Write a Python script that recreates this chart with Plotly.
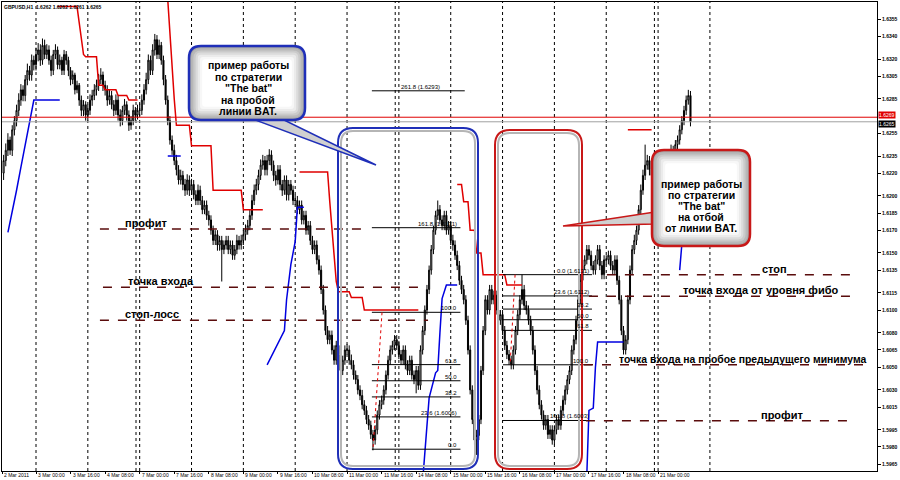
import plotly.graph_objects as go

# ---------------- data (prices in pips above 1.6000, bars indexed by trading hour since 2 Mar 00:00) ----------------
FIRST_BAR = 9
FIRST_OPEN = 220
closes = [
    231,240,249,240,258,266,275,284,293,288,302,310,306,319,315,
    324,328,319,332,324,328,319,310,324,328,315,319,310,324,319,310,302,306,293,297,284,275,280,271,
    275,284,288,293,297,302,306,297,293,284,288,280,275,284,271,266,275,280,271,262,266,275,271,275,
    275,284,293,302,319,310,328,337,324,332,319,302,284,266,249,240,231,223,214,218,210,205,214,205,
    210,201,196,205,196,188,192,183,179,170,161,166,157,161,153,157,161,153,157,148,153,161,157,161,
    166,170,174,183,196,205,210,218,227,231,223,231,236,227,218,214,223,210,205,214,201,210,205,196,
    196,188,192,179,183,170,174,161,153,157,144,135,118,100,82,74,78,65,56,69,61,47,56,65,
    65,56,52,43,39,30,25,17,12,4,-1,-9,-14,-5,8,17,21,30,43,56,65,69,74,69,
    61,56,65,52,47,56,43,39,47,34,65,82,100,118,135,153,170,183,188,179,174,183,170,174,
    161,157,148,139,126,118,109,91,65,30,4,-14,-10,4,47,82,109,100,118,109,113,100,91,96,
    82,69,61,56,52,65,82,96,109,118,104,100,91,82,65,47,30,17,8,-1,4,-9,-5,-14,
    -5,4,-1,12,21,30,39,47,65,74,91,109,126,139,144,153,148,139,135,144,153,139,131,144,
    144,148,139,135,144,126,109,82,65,74,109,135,153,161,170,188,205,218,227,231,223,218,227,223,
    227,223,218,231,227,236,240,231,245,249,258,266,275,284,288,265,
]
highs = [
    236,246,255,252,262,270,280,290,298,297,306,316,314,324,323,
    330,334,333,338,337,333,332,323,328,333,331,324,322,328,327,322,313,310,308,301,299,288,284,283,
    280,289,293,298,302,307,312,309,301,297,293,292,284,289,288,276,279,285,283,275,270,280,278,280,
    281,289,298,308,324,323,333,342,341,337,335,323,306,288,270,253,245,236,227,223,222,215,219,218,
    215,214,205,210,209,200,196,196,187,183,174,170,170,165,165,161,165,165,161,161,157,166,165,166,
    170,175,179,188,201,210,215,223,232,236,235,236,241,240,231,222,227,227,214,218,218,214,214,209,
    201,200,196,196,187,187,178,178,165,161,161,148,139,122,104,86,82,82,69,73,73,65,60,69,
    70,69,61,56,47,43,34,30,21,16,8,3,-5,-1,12,21,25,34,47,60,69,73,78,78,
    73,65,69,69,56,60,60,47,51,51,69,86,104,122,139,157,174,187,196,192,183,187,187,178,
    178,166,161,152,143,130,122,113,95,69,34,8,-5,8,51,86,113,113,122,122,117,117,104,100,
    100,86,73,65,60,69,86,100,113,131,122,108,104,95,86,69,51,34,21,12,8,8,-1,-1,
    -1,8,8,16,25,34,43,51,69,78,95,113,131,143,148,157,157,152,143,148,157,157,143,148,
    148,152,152,143,148,148,130,113,86,78,113,139,157,166,174,192,210,223,245,236,235,227,231,231,
    231,231,227,236,236,240,245,244,249,253,262,270,279,288,293,292,
]
lows = [
    214,226,235,236,235,253,261,270,279,283,283,297,301,301,310,
    310,318,314,315,320,320,315,305,306,320,311,311,306,306,315,305,297,298,289,290,279,270,270,266,
    266,271,279,284,288,292,298,292,288,279,280,276,270,271,266,261,262,271,266,257,258,262,266,267,
    270,271,280,289,298,306,306,323,320,320,315,297,280,262,245,236,227,218,210,210,205,200,201,200,
    201,197,192,192,192,184,184,179,174,166,157,157,152,152,125,149,153,149,149,144,144,149,153,153,
    157,161,166,170,179,192,201,205,214,223,218,218,227,222,213,209,210,205,200,201,196,196,201,192,
    192,184,184,175,175,166,166,157,149,149,140,131,114,96,78,70,70,61,52,52,57,43,43,52,
    61,52,48,39,35,26,21,13,8,0,-5,-13,-23,-18,-9,4,13,17,26,39,52,61,65,65,
    57,52,52,48,43,43,39,35,27,30,30,61,78,96,114,131,149,166,179,175,170,170,166,166,
    157,152,144,135,122,114,105,87,61,26,0,-18,-27,-14,0,43,78,96,96,105,105,96,87,87,
    78,65,57,52,48,48,61,78,92,105,100,96,87,78,61,43,26,13,4,-5,-5,-13,-13,-18,
    -18,-9,-5,-5,8,17,26,35,43,61,70,87,105,122,135,140,144,135,131,131,140,135,127,127,
    140,140,135,131,131,122,105,78,61,61,70,105,131,149,157,166,184,201,214,223,218,214,214,218,
    219,219,214,214,223,223,231,227,227,241,245,254,262,271,280,261,
]

# indicator lines (bar, pips)
red_segments = [
    [(34,366),(43,366),(44,352),(45,337),(46,324),(47,322),(52,322),(53,297),(55,297),(56,293),(61,293),(62,288),(66,288),(67,284),(71,284)],
    [(85,372),(86,340),(87,310),(88,285),(89,262),(95,262),(96,244),(105,244),(106,205),(119,205),(120,188),(129,188)],
    [(146,221),(159,221),(160,195),(161,170),(162,145),(163,125),(164,116),(169,116),(170,111),(175,111),(176,100),(201,100)],
    [(219,210),(221,210),(222,195),(224,195),(225,170),(227,170),(228,150),(230,150),(231,131),(241,131),(242,122),(249,122)],
    [(298,258),(309,258)],
]
blue_segments = [
    [(11,168),(13,185),(15,205),(17,225),(19,245),(21,265),(23,284),(35,284)],
    [(85,235),(91,235)],
    [(131,52),(139,82),(140,109),(141,126),(142,140),(144,160),(145,190),(148,190)],
    [(203,-50),(206,23),(209,45),(210,47),(211,80),(212,110),(214,122),(219,122)],
    [(279,-45),(280,12),(282,14),(283,50),(284,72),(296,72)],
    [(322,135),(323,160),(324,180),(325,188),(327,188)],
]

x_tick_bars = [8.3,24,40,56,72,88,104,120,136,152,168,184,200,216,232,248,264,280,296,312]
x_tick_text = ["2 Mar 2011","3 Mar 00:00","3 Mar 16:00","4 Mar 08:00","7 Mar 00:00","7 Mar 16:00",
               "8 Mar 08:00","9 Mar 00:00","9 Mar 16:00","10 Mar 08:00","11 Mar 00:00","11 Mar 16:00",
               "14 Mar 08:00","15 Mar 00:00","15 Mar 16:00","16 Mar 08:00","17 Mar 00:00","17 Mar 16:00",
               "18 Mar 08:00","21 Mar 00:00"]
day_start_bars = [24,48,72,96,120,144,168,192,216,240,264,288,312,336]
week_start_bars = [72,192,312]
y_ticks = [1.6355,1.6340,1.6320,1.6305,1.6285,1.6255,1.6235,1.6220,1.6200,1.6185,1.6170,1.6150,
           1.6135,1.6115,1.6100,1.6080,1.6065,1.6050,1.6030,1.6015,1.5995,1.5980,1.5965]

BID, ASK = 1.6265, 1.6269
header_values = ["1.6262", "1.6262", "1.6261", "1.6265"]

# Fibonacci objects
fib1_ratios = [0.0, 23.6, 38.2, 50.0, 61.8, 100.0, 161.8]
fib1_labels = ["0.0", "23.6 (1.6006)", "38.2", "50.0", "61.8", "100.0", "161.8 (1.6171)"]
fib1_p0, fib1_p100 = 1.5978, 1.6098
fib1_bars = (179.5, 220.5)
fib1_ext = (261.8, "261.8 (1.6293)")
fib1_anchor_bars = (180.0, 184.2)
fib2_ratios = [0.0, 23.6, 38.2, 50.0, 61.8, 100.0, 161.8]
fib2_labels = ["0.0 (1.6131)", "23.6 (1.6112)", "38.2", "50.0", "61.8", "100.0", "161.8 (1.6003)"]
fib2_p0, fib2_p100 = 1.6131, 1.6052
fib2_bars = (240.2, 281.4)
fib2_anchor_bars = (245.8, 243.5)

# hand-drawn levels
level_prices = [1.6171, 1.6120, 1.6091, 1.6131, 1.6112, 1.6052, 1.6003]
level_starts = [53.6, 55.0, 53.6, 288.3, 280.0, 277.7, 278.6]
level_ends = [178.6, 201.8, 205.5, 404.1, 404.6, 408.3, 401.3]
level_texts = ["профит", "точка входа", "стоп-лосс", "стоп", "точка входа от уровня фибо",
               "точка входа на пробое предыдущего минимума", "профит"]
level_text_bars = [74.9, 81.9, 77.7, 366.1, 359.2, 351.0, 369.4]
level_text_sizes = [11, 11, 11, 11, 11, 10.4, 11]

callout1_lines = ["пример работы", "по стратегии", "\"The bat\"", "на пробой", "линии BAT."]
callout2_lines = ["пример работы", "по стратегии", "\"The bat\"", "на отбой", "от линии BAT."]

# ---------------- geometry helpers (reference pixel frame) ----------------
PL, PR, PT, PB = 2, 877, 2, 471
BAR_PX = 2.16
X_LEFT = 8.26
Y_TOP, Y_BOT = 1.6370, 1.59589
def X(px): return X_LEFT + (px - PL) / BAR_PX
def PX(px): return (px - PL) / (PR - PL)
def PY(py): return 1 - (py - PT) / (PB - PT)
def price(v): return round(1.6 + v * 0.0001, 5)

FONT = "Liberation Sans, Arial, sans-serif"
SMALL = dict(family=FONT, size=5, color="black")

fig = go.Figure()

bars = list(range(FIRST_BAR, FIRST_BAR + len(closes)))
opens = [FIRST_OPEN] + closes[:-1]
fig.add_trace(go.Candlestick(
    x=bars, open=[price(v) for v in opens], high=[price(v) for v in highs],
    low=[price(v) for v in lows], close=[price(v) for v in closes],
    increasing=dict(line=dict(color="black", width=1), fillcolor="white"),
    decreasing=dict(line=dict(color="black", width=1), fillcolor="black"),
    whiskerwidth=0, hoverinfo="skip", showlegend=False))

for segs, col in ((red_segments, "#e00000"), (blue_segments, "#0000e0")):
    for seg in segs:
        fig.add_trace(go.Scatter(x=[p[0] for p in seg], y=[price(p[1]) for p in seg], mode="lines",
                                 line=dict(color=col, width=1.5), hoverinfo="skip", showlegend=False))

shapes = []
annotations = []

# grid
for b in day_start_bars:
    shapes.append(dict(type="line", xref="x", yref="paper", x0=b, x1=b, y0=0, y1=1,
                       line=dict(color="black", width=1, dash="dot"), layer="below"))
for b in week_start_bars:
    shapes.append(dict(type="line", xref="x", yref="paper", x0=b - 1.7, x1=b - 1.7, y0=0, y1=1,
                       line=dict(color="black", width=1, dash="dot"), layer="below"))

# bid / ask
shapes.append(dict(type="line", xref="paper", yref="y", x0=0, x1=1, y0=BID, y1=BID, line=dict(color="#a0a0a0", width=1)))
shapes.append(dict(type="line", xref="paper", yref="y", x0=0, x1=1, y0=ASK, y1=ASK, line=dict(color="#e00000", width=1)))

# fibo 1
def fib_price(p0, p100, r): return p0 + (p100 - p0) * r / 100.0
for r, lab in zip(fib1_ratios, fib1_labels):
    yv = fib_price(fib1_p0, fib1_p100, r)
    shapes.append(dict(type="line", xref="x", yref="y", x0=fib1_bars[0], x1=fib1_bars[1], y0=yv, y1=yv, line=dict(color="black", width=1)))
    annotations.append(dict(x=fib1_bars[1] - 0.6, y=yv, xref="x", yref="y", text=lab, showarrow=False,
                            xanchor="right", yanchor="bottom", font=dict(family=FONT, size=6, color="black"), yshift=-1))
yv = fib_price(fib1_p0, fib1_p100, fib1_ext[0])
shapes.append(dict(type="line", xref="x", yref="y", x0=fib1_bars[0], x1=fib1_bars[1] + 2, y0=yv, y1=yv, line=dict(color="black", width=1)))
annotations.append(dict(x=(fib1_bars[0] + fib1_bars[1]) / 2 + 2, y=yv, xref="x", yref="y", text=fib1_ext[1], showarrow=False,
                        xanchor="center", yanchor="bottom", font=dict(family=FONT, size=6, color="black"), yshift=-1))
shapes.append(dict(type="line", xref="x", yref="y", x0=fib1_anchor_bars[1], x1=fib1_anchor_bars[0], y0=fib1_p100, y1=fib1_p0,
                   line=dict(color="#e00000", width=1, dash="dot")))

# fibo 2
for r, lab in zip(fib2_ratios, fib2_labels):
    yv = fib_price(fib2_p0, fib2_p100, r)
    shapes.append(dict(type="line", xref="x", yref="y", x0=fib2_bars[0], x1=fib2_bars[1], y0=yv, y1=yv, line=dict(color="black", width=1)))
    annotations.append(dict(x=fib2_bars[1] - 0.6, y=yv, xref="x", yref="y", text=lab, showarrow=False,
                            xanchor="right", yanchor="bottom", font=dict(family=FONT, size=6, color="black"), yshift=-1))
shapes.append(dict(type="line", xref="x", yref="y", x0=fib2_anchor_bars[0], x1=fib2_anchor_bars[1], y0=fib2_p0, y1=fib2_p100,
                   line=dict(color="#e00000", width=1, dash="dot")))

# levels
for p, s, e, t, tb, fs in zip(level_prices, level_starts, level_ends, level_texts, level_text_bars, level_text_sizes):
    shapes.append(dict(type="line", xref="x", yref="y", x0=s, x1=e, y0=p, y1=p,
                       line=dict(color="#5a0c0c", width=1.5, dash="dash")))
    annotations.append(dict(x=tb, y=p, xref="x", yref="y", text="<b>%s</b>" % t, showarrow=False,
                            xanchor="center", yanchor="bottom", yshift=-2,
                            font=dict(family=FONT, size=fs, color="black")))

# rounded boxes (paper coords from reference pixel frame)
def P(px, py): return "%.5f,%.5f" % (PX(px), PY(py))
def rrect(x0, y0, x1, y1, r):
    return ("M %s L %s Q %s %s L %s Q %s %s L %s Q %s %s L %s Q %s %s Z" % (
        P(x0 + r, y0), P(x1 - r, y0), P(x1, y0), P(x1, y0 + r), P(x1, y1 - r), P(x1, y1), P(x1 - r, y1),
        P(x0 + r, y1), P(x0, y1), P(x0, y1 - r), P(x0, y0 + r), P(x0, y0), P(x0 + r, y0)))

BLUE_BORDER = "#1f2fb8"
RED_BORDER = "#c81818"
for (x0, y0, x1, y1), col in (((338, 128, 478, 469), BLUE_BORDER), ((495, 130, 582, 469), RED_BORDER)):
    shapes.append(dict(type="path", xref="paper", yref="paper", path=rrect(x0 + 3, y0 + 3, x1 - 3, y1 - 3, 12),
                       line=dict(color="#b5b5b5", width=2)))
    shapes.append(dict(type="path", xref="paper", yref="paper", path=rrect(x0, y0, x1, y1, 15),
                       line=dict(color=col, width=2)))

def callout(box, tip, col):
    x0, y0, x1, y1 = box
    shapes.append(dict(type="path", xref="paper", yref="paper", path=tip, fillcolor="#d0d0d0",
                       line=dict(color=col, width=1.5)))
    fills = ["#a6a6a6", "#b8b8b8", "#cacaca", "#dbdbdb", "#ebebeb", "#f7f7f7", "#ffffff"]
    for i, fc in enumerate(fills):
        d = i * 2.2
        shapes.append(dict(type="path", xref="paper", yref="paper", path=rrect(x0 + d, y0 + d, x1 - d, y1 - d, max(12 - d, 3)),
                           fillcolor=fc, line=dict(width=0)))
    shapes.append(dict(type="path", xref="paper", yref="paper", path=rrect(x0, y0, x1, y1, 12),
                       line=dict(color=col, width=2.5)))

callout((189, 46, 305, 120), "M %s L %s L %s Z" % (P(250, 118), P(376, 165), P(280, 118)), BLUE_BORDER)
callout((652, 150, 750, 246), "M %s L %s L %s Z" % (P(655, 212), P(563, 226), P(655, 224)), RED_BORDER)

for i, line in enumerate(callout1_lines):
    annotations.append(dict(x=PX(248), y=PY(65 + i * 11.6), xref="paper", yref="paper", text="<b>%s</b>" % line,
                            showarrow=False, xanchor="center", yanchor="middle", font=dict(family=FONT, size=10.5, color="black")))
for i, line in enumerate(callout2_lines):
    annotations.append(dict(x=PX(701), y=PY(184 + i * 11.1), xref="paper", yref="paper", text="<b>%s</b>" % line,
                            showarrow=False, xanchor="center", yanchor="middle", font=dict(family=FONT, size=10.5, color="black")))

# header + price tags
annotations.append(dict(x=PX(3), y=PY(3), xref="paper", yref="paper", text="<b>%s  %s</b>" % ("GBPUSD,H1", " ".join(header_values)),
                        showarrow=False, xanchor="left", yanchor="top", font=SMALL, borderpad=0))
annotations.append(dict(x=PX(878), y=ASK, xref="paper", yref="y", text="%.4f" % ASK, showarrow=False, xanchor="left",
                        yanchor="bottom", bgcolor="#e00000", font=dict(family=FONT, size=5, color="white"), borderpad=0, yshift=-2))
annotations.append(dict(x=PX(878), y=BID, xref="paper", yref="y", text="%.4f" % BID, showarrow=False, xanchor="left",
                        yanchor="top", bgcolor="black", font=dict(family=FONT, size=5, color="white"), borderpad=0, yshift=2))

# axis labels drawn as text (MT4 style: left-aligned at the tick, tiny font)
for b, t in zip(x_tick_bars, x_tick_text):
    annotations.append(dict(x=b, y=PY(475), xref="x", yref="paper", text=t, showarrow=False, xanchor="left",
                            yanchor="middle", xshift=1, font=SMALL, borderpad=0))
for v in y_ticks:
    annotations.append(dict(x=PX(881), y=v, xref="paper", yref="y", text="<b>%.4f</b>" % v, showarrow=False, xanchor="left",
                            yanchor="middle", font=SMALL, borderpad=0))

fig.update_layout(
    width=900, height=480, margin=dict(l=PL, r=900 - PR, t=PT, b=480 - PB),
    paper_bgcolor="white", plot_bgcolor="white", showlegend=False,
    shapes=shapes, annotations=annotations,
    xaxis=dict(range=[X(PL), X(PR)], tickvals=x_tick_bars, ticks="outside", ticklen=2, tickcolor="black",
               showticklabels=False, showgrid=False, zeroline=False, showline=True, linecolor="black", linewidth=1,
               mirror=True, rangeslider=dict(visible=False), fixedrange=True),
    yaxis=dict(range=[Y_BOT, Y_TOP], side="right", tickvals=y_ticks, ticks="outside", ticklen=3, tickcolor="black",
               showticklabels=False, showgrid=False, zeroline=False, showline=True, linecolor="black", linewidth=1,
               mirror=True, fixedrange=True),
)

fig.write_html("out.html", config={"displayModeBar": False},
               post_script="document.body.style.margin='0';document.body.style.overflow='hidden';")
